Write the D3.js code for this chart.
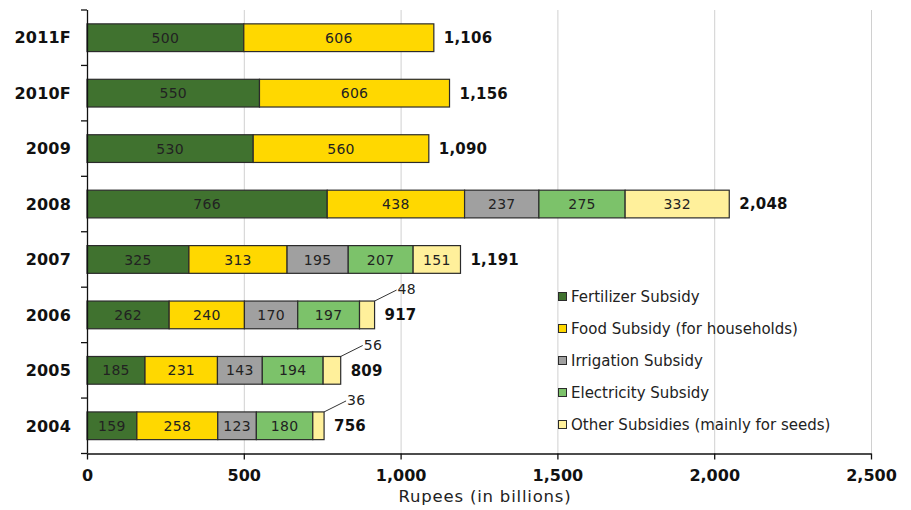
<!DOCTYPE html>
<html>
<head>
<meta charset="utf-8">
<script src="https://cdn.jsdelivr.net/npm/d3@7"></script>
<style>
  html, body { margin: 0; padding: 0; background: #fff; }
  svg { display: block; font-family: "DejaVu Sans", Verdana, sans-serif; }
</style>
</head>
<body>
<svg id="chart" width="911" height="510"></svg>
<script>
// Agricultural and food subsidies in India, Rupees (in billions)
const years = ["2011F", "2010F", "2009", "2008", "2007", "2006", "2005", "2004"];
const fertilizer  = [500, 550, 530, 766, 325, 262, 185, 159];
const food        = [606, 606, 560, 438, 313, 240, 231, 258];
const irrigation  = [0, 0, 0, 237, 195, 170, 143, 123];
const electricity = [0, 0, 0, 275, 207, 197, 194, 180];
const other       = [0, 0, 0, 332, 151, 48, 56, 36];
const totals      = [1106, 1156, 1090, 2048, 1191, 917, 809, 756];
const xTicks      = [0, 500, 1000, 1500, 2000, 2500];

const seriesNames = [
  "Fertilizer Subsidy",
  "Food Subsidy (for households)",
  "Irrigation Subsidy",
  "Electricity Subsidy",
  "Other Subsidies (mainly for seeds)"
];
const seriesKeys = ["fertilizer", "food", "irrigation", "electricity", "other"];
const colors = ["#40722F", "#FFD800", "#A0A0A0", "#7CC26A", "#FFF09B"];

const rows = years.map((y, i) => ({
  year: y,
  fertilizer: fertilizer[i],
  food: food[i],
  irrigation: irrigation[i],
  electricity: electricity[i],
  other: other[i],
  total: totals[i]
}));

const plotLeft = 87, plotRight = 871, plotTop = 10, plotBottom = 453.5;
const svg = d3.select("#chart");

const x = d3.scaleLinear().domain([0, 2500]).range([plotLeft, plotRight]);
const y = d3.scaleBand().domain(years).range([plotTop, plotBottom]).paddingInner(0.5).paddingOuter(0.25);

// vertical grid lines
svg.append("g")
  .selectAll("line")
  .data(xTicks.slice(1))
  .join("line")
  .attr("x1", d => x(d) + 0.5).attr("x2", d => x(d) + 0.5)
  .attr("y1", plotTop).attr("y2", plotBottom)
  .attr("stroke", "#d0d0d0").attr("stroke-width", 1);

// stacked segments
const stacked = d3.stack().keys(seriesKeys)(rows);

const segG = svg.append("g");
stacked.forEach((layer, li) => {
  layer.forEach(seg => {
    const v = seg[1] - seg[0];
    if (v <= 0) return;
    segG.append("rect")
      .attr("x", x(seg[0]))
      .attr("y", y(seg.data.year))
      .attr("width", x(seg[1]) - x(seg[0]))
      .attr("height", y.bandwidth())
      .attr("fill", colors[li])
      .attr("stroke", "#2b2b2b")
      .attr("stroke-width", 1.2);
  });
});

// segment value labels; narrow segments get a callout line
stacked.forEach((layer, li) => {
  layer.forEach(seg => {
    const v = seg[1] - seg[0];
    if (v <= 0) return;
    const w = x(seg[1]) - x(seg[0]);
    const cy = y(seg.data.year) + y.bandwidth() / 2;
    if (w >= 30) {
      segG.append("text")
        .attr("x", (x(seg[0]) + x(seg[1])) / 2)
        .attr("y", cy)
        .attr("dy", "0.36em")
        .attr("text-anchor", "middle")
        .attr("font-size", 14)
        .attr("letter-spacing", 0.3)
        .attr("fill", "#222")
        .text(d3.format(",")(v));
    } else {
      const x0 = x(seg[1]);
      const y0 = y(seg.data.year);
      segG.append("line")
        .attr("x1", x0).attr("y1", y0)
        .attr("x2", x0 + 22).attr("y2", y0 - 11)
        .attr("stroke", "#333").attr("stroke-width", 1);
      segG.append("text")
        .attr("x", x0 + 23)
        .attr("y", y0 - 12)
        .attr("dy", "0.36em")
        .attr("font-size", 14)
        .attr("letter-spacing", 0.3)
        .attr("fill", "#222")
        .text(d3.format(",")(v));
    }
  });
});

// totals at bar ends
svg.append("g")
  .selectAll("text")
  .data(rows)
  .join("text")
  .attr("x", d => x(d.total) + 10)
  .attr("y", d => y(d.year) + y.bandwidth() / 2)
  .attr("dy", "0.36em")
  .attr("font-size", 15)
  .attr("font-weight", "bold")
  .attr("letter-spacing", 0.2)
  .attr("fill", "#111")
  .text(d => d3.format(",")(d.total));

// y axis
const yAxisG = svg.append("g");
yAxisG.append("line")
  .attr("x1", plotLeft + 0.5).attr("x2", plotLeft + 0.5)
  .attr("y1", plotTop).attr("y2", plotBottom)
  .attr("stroke", "#111").attr("stroke-width", 1.3);
const boundaries = d3.range(years.length + 1).map(i => plotTop + i * (plotBottom - plotTop) / years.length);
yAxisG.selectAll("line.tick")
  .data(boundaries)
  .join("line")
  .attr("class", "tick")
  .attr("x1", plotLeft - 6).attr("x2", plotLeft)
  .attr("y1", d => d).attr("y2", d => d)
  .attr("stroke", "#111").attr("stroke-width", 1.3);
yAxisG.selectAll("text")
  .data(years)
  .join("text")
  .attr("x", 71)
  .attr("y", d => y(d) + y.bandwidth() / 2)
  .attr("dy", "0.36em")
  .attr("text-anchor", "end")
  .attr("font-size", 16)
  .attr("font-weight", "bold")
  .attr("letter-spacing", 0.2)
  .attr("fill", "#111")
  .text(d => d);

// x axis
const xAxis = d3.axisBottom(x).tickValues(xTicks).tickSize(6).tickSizeOuter(0).tickFormat(d3.format(","));
const xAxisG = svg.append("g").attr("transform", `translate(0,${plotBottom})`).call(xAxis);
xAxisG.select(".domain").attr("stroke", "#111").attr("stroke-width", 1.3);
xAxisG.selectAll(".tick line").attr("stroke", "#111").attr("stroke-width", 1.3);
xAxisG.selectAll(".tick text")
  .attr("font-family", "DejaVu Sans, Verdana, sans-serif")
  .attr("font-size", 16)
  .attr("font-weight", "bold")
  .attr("fill", "#111")
  .attr("y", 27.5)
  .attr("dy", 0);

svg.append("text")
  .attr("x", 485)
  .attr("y", 502)
  .attr("text-anchor", "middle")
  .attr("font-size", 16.5)
  .attr("letter-spacing", 0.8)
  .attr("fill", "#222")
  .text("Rupees (in billions)");

// legend
const legend = svg.append("g").attr("transform", "translate(558,297)");
seriesNames.forEach((name, i) => {
  const g = legend.append("g").attr("transform", `translate(0,${i * 32})`);
  g.append("rect")
    .attr("x", 0.5).attr("y", -4.5)
    .attr("width", 8).attr("height", 8)
    .attr("fill", colors[i])
    .attr("stroke", "#2b2b2b").attr("stroke-width", 1);
  g.append("text")
    .attr("x", 13).attr("y", 0)
    .attr("dy", "0.36em")
    .attr("font-size", 15)
    .attr("fill", "#222")
    .text(name);
});
</script>
</body>
</html>
